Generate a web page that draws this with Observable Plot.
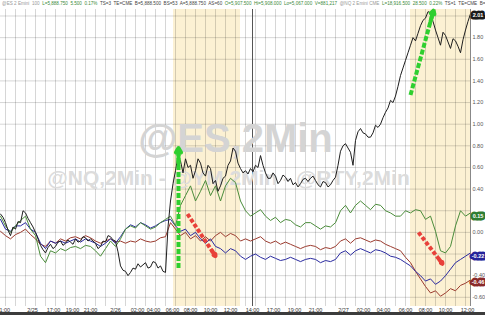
<!DOCTYPE html>
<html><head><meta charset="utf-8">
<script src="https://cdn.jsdelivr.net/npm/d3@7"></script>
<script src="https://cdn.jsdelivr.net/npm/@observablehq/plot@0.6"></script>
<style>
html,body{margin:0;padding:0;background:#3c3c3c;}
#chart{width:485px;height:312px;background:#fff;overflow:hidden;position:relative}
svg{display:block}
</style></head><body><div id="chart"></div>
<script>
// x = trading hours from the left edge
const esStep = 0.25;
const esVals = [0.17,0.14,0.09,0.02,-0.03,0.05,0.03,0.10,0.09,0.20,0.18,0.13,0.09,0.05,0.0,-0.06,-0.12,-0.16,-0.19,-0.14,-0.11,-0.15,-0.13,-0.09,-0.08,-0.12,-0.10,-0.07,-0.09,-0.11,-0.06,-0.09,-0.08,-0.04,-0.05,-0.08,-0.06,-0.08,-0.10,-0.15,-0.13,-0.08,-0.09,-0.03,-0.04,-0.07,-0.08,-0.18,-0.31,-0.35,-0.36,-0.40,-0.37,-0.33,-0.34,-0.29,-0.32,-0.30,-0.28,-0.33,-0.32,-0.27,-0.28,-0.33,-0.31,-0.36,-0.37,0.05,0.29,0.45,0.57,0.70,0.66,0.55,0.68,0.60,0.62,0.50,0.57,0.68,0.64,0.55,0.52,0.62,0.59,0.45,0.48,0.38,0.43,0.50,0.52,0.62,0.66,0.78,0.75,0.64,0.59,0.55,0.57,0.54,0.59,0.56,0.62,0.60,0.71,0.62,0.55,0.50,0.50,0.55,0.52,0.45,0.48,0.53,0.51,0.47,0.50,0.44,0.46,0.42,0.45,0.49,0.50,0.47,0.50,0.52,0.48,0.44,0.42,0.47,0.46,0.42,0.44,0.48,0.51,0.62,0.75,0.80,0.82,0.78,0.74,0.62,0.85,0.93,0.96,0.92,0.91,0.88,0.88,0.92,0.99,0.97,1.0,1.06,1.11,1.15,1.22,1.20,1.26,1.35,1.45,1.52,1.59,1.66,1.73,1.80,1.77,1.84,1.91,1.96,1.98,2.04,2.03,1.95,1.87,1.80,1.73,1.85,1.82,1.76,1.70,1.79,1.77,1.72,1.66,1.78,1.87,1.95,2.02];
const step = 0.5;
const nqVals = [0.15,0.06,0.0,0.06,0.11,0.15,0.03,-0.03,-0.22,-0.28,-0.17,-0.19,-0.15,-0.17,-0.14,-0.13,-0.15,-0.12,-0.13,-0.17,-0.22,-0.15,-0.08,-0.13,-0.06,0.03,0.06,0.04,0.09,0.06,0.03,0.05,0.09,0.12,0.15,0.06,0.25,0.34,0.43,0.29,0.38,0.48,0.34,0.43,0.29,0.43,0.50,0.46,0.29,0.20,0.15,0.18,0.21,0.15,0.11,0.14,0.09,0.12,0.11,0.07,0.05,0.09,0.09,0.06,0.03,0.06,0.05,0.09,0.20,0.25,0.18,0.25,0.29,0.25,0.21,0.26,0.25,0.20,0.18,0.15,0.15,0.20,0.18,0.21,0.20,0.12,0.15,0.01,-0.17,-0.19,-0.13,0.06,0.20,0.15,0.18];
const ymVals = [0.12,0.03,0.01,0.06,0.06,0.09,0.03,0.0,-0.10,-0.15,-0.08,-0.10,-0.08,-0.10,-0.08,-0.06,-0.09,-0.06,-0.08,-0.10,-0.13,-0.10,-0.06,-0.10,-0.04,0.03,0.07,0.05,0.09,0.07,0.04,0.06,0.09,0.11,0.12,0.06,0.01,0.03,-0.03,0.0,-0.06,-0.10,-0.06,-0.13,-0.15,-0.19,-0.15,-0.17,-0.22,-0.25,-0.22,-0.20,-0.23,-0.25,-0.22,-0.24,-0.26,-0.25,-0.23,-0.25,-0.27,-0.25,-0.24,-0.25,-0.28,-0.26,-0.27,-0.25,-0.19,-0.17,-0.21,-0.17,-0.15,-0.17,-0.19,-0.16,-0.17,-0.19,-0.22,-0.23,-0.25,-0.28,-0.31,-0.36,-0.40,-0.45,-0.43,-0.48,-0.45,-0.40,-0.34,-0.28,-0.25,-0.22,-0.19];
const rtyVals = [0.01,-0.03,-0.06,-0.02,0.0,0.03,-0.02,-0.06,-0.11,-0.13,-0.08,-0.10,-0.06,-0.08,-0.05,-0.04,-0.06,-0.03,-0.05,-0.08,-0.10,-0.08,-0.06,-0.09,-0.08,-0.10,-0.08,-0.09,-0.06,-0.08,-0.09,-0.08,-0.05,-0.04,0.09,0.03,-0.03,0.0,-0.06,-0.03,-0.08,-0.04,-0.08,-0.03,0.0,-0.04,-0.01,-0.03,-0.08,-0.06,-0.08,-0.06,-0.04,-0.08,-0.10,-0.08,-0.11,-0.09,-0.11,-0.13,-0.15,-0.13,-0.12,-0.13,-0.16,-0.14,-0.15,-0.13,-0.08,-0.06,-0.10,-0.06,-0.05,-0.07,-0.09,-0.07,-0.08,-0.11,-0.13,-0.15,-0.17,-0.23,-0.28,-0.36,-0.43,-0.50,-0.56,-0.54,-0.59,-0.56,-0.52,-0.54,-0.49,-0.47,-0.44];

const tickHours = [0.3,3.2,5.3,7.2,9.0,11.5,13.7,15.3,17.2,19.0,21.0,23.0,25.2,27.3,29.4,31.5,34.3,36.3,38.3,40.5,42.5,44.5,46.7];
const tickLabels = ["11:00","2/25","17:00","19:00","21:00","2/26","02:00","04:00","06:00","08:00","10:00","12:00","14:00","17:00","19:00","21:00","2/27","02:00","04:00","06:00","08:00","10:00","12:00"];
const yTicks = [-0.6,-0.4,-0.2,0,0.2,0.4,0.6,0.8,1.0,1.2,1.4,1.6,1.8,2.0];
const yLabelTicks = [-0.6,-0.4,0,0.4,0.6,0.8,1.0,1.2,1.4,1.6,1.8];
const sessions = [{a:17.3,b:24.0},{a:41.0,b:47.0}];
const separators = [25.2];
const lastLabels = [
  {v:2.01, text:"2.01", fill:"#1a1a1a"},
  {v:0.15, text:"0.15", fill:"#2f7d32"},
  {v:-0.22, text:"-0.22", fill:"#24249a"},
  {v:-0.46, text:"-0.46", fill:"#8a2a2a"}
];
const greenArrows = [{x1:17.8,y1:-0.33,x2:17.8,y2:0.78},{x1:41.0,y1:1.27,x2:43.3,y2:2.05}];
const redArrows = [{x1:18.7,y1:0.17,x2:21.5,y2:-0.22},{x1:41.8,y1:0.0,x2:44.2,y2:-0.29}];

const mk = (vals, st, name) => vals.map((v,i)=>({t:i*st, v, name}));
const series = [
  {name:"RTY", data:mk(rtyVals,step,"RTY"), color:"#9b3a2e"},
  {name:"YM", data:mk(ymVals,step,"YM"), color:"#2a2aa0"},
  {name:"NQ", data:mk(nqVals,step,"NQ"), color:"#4a8c3a"},
  {name:"ES", data:mk(esVals,esStep,"ES"), color:"#1e1e1e"}
];
const hourGrid = d3.range(0.5, 47, 1);
// arrow heads: last 12% of each arrow drawn solid
const heads = arr => arr.map(a=>({x1:a.x2-(a.x2-a.x1)*0.13, y1:a.y2-(a.y2-a.y1)*0.13, x2:a.x2, y2:a.y2}));

const chart = Plot.plot({
  width:485, height:312,
  marginLeft:0, marginRight:15, marginTop:9, marginBottom:6,
  style:{fontFamily:"Liberation Sans, Arial, sans-serif", background:"#fff", overflow:"hidden"},
  x:{domain:[0,47], axis:null},
  y:{domain:[-0.685,2.06], axis:null},
  marks:[
    Plot.rect(sessions,{x1:"a",x2:"b",fill:"#fcf1d3"}),
    Plot.ruleX(hourGrid,{stroke:"#000",strokeOpacity:0.16,strokeWidth:1}),
    Plot.ruleY(yTicks,{stroke:"#000",strokeOpacity:0.16,strokeWidth:1}),
    Plot.ruleX(separators,{stroke:"#555",strokeWidth:1}),
    Plot.text(["@ES,2Min"],{x:23.5,y:0.86,fontSize:40,fontWeight:"bold",fill:"#d4d4d4"}),
    Plot.text(["@NQ,2Min - @YM,2Min - @RTY,2Min"],{x:22.8,y:0.5,fontSize:21,fontWeight:"bold",fill:"#dcdcdc"}),
    ...series.map(s=>Plot.line(s.data,{x:"t",y:"v",stroke:s.color,strokeWidth:1})),
    Plot.link(greenArrows,{x1:"x1",y1:"y1",x2:"x2",y2:"y2",stroke:"#2fcf2f",strokeWidth:4,strokeDasharray:"5 2",strokeLinecap:"butt"}),
    Plot.arrow(heads(greenArrows),{x1:"x1",y1:"y1",x2:"x2",y2:"y2",stroke:"#2fcf2f",strokeWidth:4,headLength:9,bend:0}),
    Plot.link(redArrows,{x1:"x1",y1:"y1",x2:"x2",y2:"y2",stroke:"#e8413a",strokeWidth:4,strokeDasharray:"4 2",strokeLinecap:"butt"}),
    Plot.arrow(heads(redArrows),{x1:"x1",y1:"y1",x2:"x2",y2:"y2",stroke:"#e8413a",strokeWidth:4,headLength:8,bend:0}),
    Plot.ruleX([47],{stroke:"#888"}),
    Plot.axisX({ticks:tickHours, tickFormat:(d,i)=>tickLabels[i], tickSize:0, tickPadding:1.5, fontSize:5.5, anchor:"bottom", fill:"#333"}),
    Plot.axisY({ticks:yLabelTicks, anchor:"right", tickSize:0, tickPadding:2, fontSize:5.5, fill:"#555", tickFormat:d=>d.toFixed(2)}),
    Plot.text(lastLabels,{x:47,y:"v",text:"text",dx:7.5,textAnchor:"middle",fontSize:5.5,fill:"#fff",stroke:"fill",strokeWidth:5,paintOrder:"stroke",fontWeight:"bold"})
  ]
});
document.getElementById("chart").appendChild(chart);
// header line
const svg = d3.select(chart);
const hdr = svg.append("text").attr("x",2).attr("y",5).attr("font-size",4.6).attr("text-anchor","start").attr("fill","#777");
[["#999","@ES 2 Emini  100  "],["#3c8a3c","L=5,888.750  5.500  0.17%  "],["#444","TS=3  TE=CME  B=5,888.500  BS=53  A=5,888.750  AS=60  "],["#3c8a3c","O=5,907.500  Hi=5,908.000  Lo=5,067.000  V=881,217  "],["#999","@NQ 2 Emini CME  "],["#3c8a3c","L=18,916.500  28.500  0.22%  "],["#444","TS=1  TE=CME  B=18,916..."]]
  .forEach(([c,t])=>hdr.append("tspan").attr("fill",c).text(t));
</script></body></html>
